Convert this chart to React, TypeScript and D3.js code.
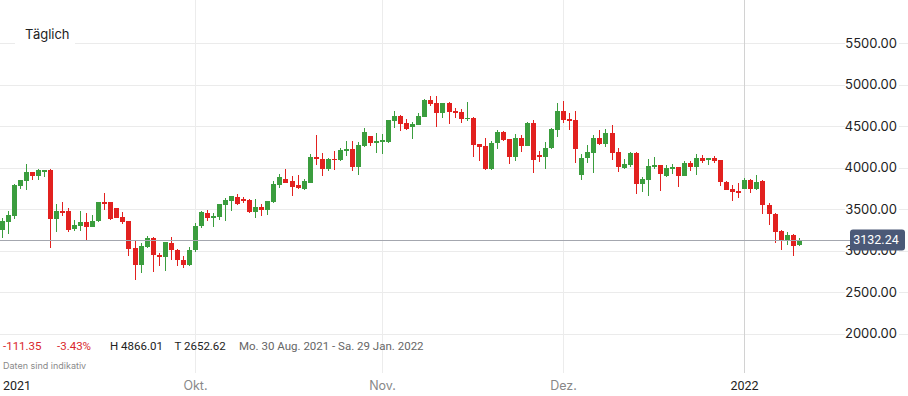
import React, { useEffect, useRef } from 'react';
import * as d3 from 'd3';

// daily candles, Mo. 30 Aug. 2021 onwards
const opens = [
  3247, 3343, 3415, 3778, 3838, 3947, 3898, 3959, 3971, 3376,
  3476, 3476, 3267, 3303, 3351, 3287, 3355, 3584, 3584, 3512,
  3408, 3355, 3034, 2824, 3041, 3155, 2945, 2921, 3094, 3013,
  2893, 2824, 3005, 3295, 3456, 3396, 3403, 3548, 3597, 3650,
  3617, 3605, 3464, 3529, 3488, 3584, 3786, 3867, 3838, 3786,
  3746, 3819, 4132, 4108, 3979, 4108, 4091, 4200, 4229, 4007,
  4260, 4381, 4301, 4313, 4313, 4562, 4622, 4543, 4490, 4514,
  4610, 4812, 4776, 4655, 4776, 4679, 4667, 4583, 4603, 4281,
  4260, 3979, 4293, 4434, 4341, 4128, 4353, 4260, 4543, 4148,
  4128, 4233, 4454, 4676, 4591, 4571, 3907, 4112, 4181, 4362,
  4281, 4414, 4188, 3991, 4027, 4181, 3807, 3850, 4007, 4027,
  3898, 3988, 4007, 3898, 4051, 4012, 4112, 4088, 4112, 4088,
  3831, 3738, 3717, 3746, 3850, 3746, 3838, 3545, 3444, 3243,
  3126, 3195, 3065,
];
const highs = [
  3388, 3484, 3798, 3852, 4039, 3950, 3988, 3975, 3979, 3557,
  3581, 3520, 3367, 3476, 3456, 3424, 3590, 3689, 3590, 3515,
  3464, 3360, 3114, 3094, 3182, 3160, 2974, 3108, 3167, 3016,
  2941, 3041, 3336, 3484, 3496, 3448, 3560, 3638, 3660, 3686,
  3645, 3617, 3625, 3557, 3596, 3838, 3919, 3979, 3898, 3907,
  3858, 4160, 4390, 4181, 4112, 4200, 4241, 4321, 4321, 4309,
  4474, 4385, 4414, 4402, 4575, 4683, 4630, 4591, 4550, 4663,
  4820, 4864, 4866.01, 4780, 4785, 4712, 4703, 4784, 4610, 4285,
  4362, 4321, 4450, 4441, 4345, 4402, 4390, 4550, 4571, 4200,
  4309, 4482, 4776, 4803, 4655, 4676, 4160, 4269, 4390, 4450,
  4462, 4510, 4241, 4108, 4188, 4188, 3891, 4108, 4128, 4030,
  4027, 4039, 4010, 4079, 4079, 4160, 4148, 4120, 4140, 4095,
  3835, 3786, 3819, 3879, 3867, 3907, 3850, 3577, 3456, 3250,
  3222, 3200, 3153,
];
const lows = [
  3158, 3207, 3384, 3738, 3729, 3850, 3850, 3891, 3034, 3222,
  3415, 3222, 3234, 3243, 3126, 3280, 3350, 3496, 3370, 3393,
  3319, 2933, 2652.62, 2732, 3035, 2740, 2812, 2752, 2893, 2812,
  2788, 2820, 2981, 3275, 3355, 3283, 3367, 3355, 3476, 3550,
  3569, 3448, 3391, 3415, 3428, 3580, 3750, 3815, 3657, 3738,
  3729, 3815, 4027, 3900, 3955, 3971, 4076, 4140, 3955, 3907,
  4253, 4260, 4181, 4160, 4293, 4482, 4441, 4455, 4350, 4510,
  4605, 4736, 4490, 4603, 4522, 4603, 4543, 4562, 4128, 4079,
  3971, 3975, 4221, 4321, 4039, 4079, 4188, 4255, 3931, 4067,
  3979, 4228, 4374, 4534, 4454, 4060, 3850, 4051, 3939, 4278,
  4253, 4091, 3947, 3979, 4007, 3686, 3705, 3657, 3979, 3717,
  3891, 3927, 3770, 3895, 3959, 3910, 4060, 4027, 4060, 3778,
  3725, 3597, 3633, 3740, 3689, 3729, 3436, 3315, 3094, 3013,
  3065, 2933, 3060,
];
const closes = [
  3355, 3424, 3786, 3850, 3943, 3898, 3971, 3971, 3376, 3476,
  3464, 3255, 3315, 3351, 3283, 3363, 3584, 3569, 3376, 3396,
  3343, 3022, 2824, 3053, 3155, 2953, 2921, 3102, 3005, 2884,
  2824, 3013, 3303, 3464, 3396, 3415, 3557, 3605, 3657, 3557,
  3597, 3464, 3529, 3488, 3593, 3798, 3891, 3819, 3770, 3750,
  3834, 4132, 4100, 3979, 4108, 4091, 4212, 4229, 4007, 4269,
  4434, 4301, 4321, 4329, 4571, 4622, 4522, 4462, 4522, 4622,
  4812, 4764, 4655, 4776, 4671, 4663, 4591, 4603, 4269, 4248,
  3979, 4293, 4434, 4333, 4128, 4353, 4260, 4534, 4088, 4128,
  4241, 4470, 4676, 4574, 4562, 4229, 4120, 4188, 4362, 4281,
  4414, 4181, 4012, 4039, 4181, 3798, 3858, 4019, 4027, 3927,
  3991, 4007, 3898, 4051, 4012, 4112, 4079, 4112, 4079, 3826,
  3729, 3705, 3689, 3850, 3746, 3831, 3545, 3436, 3222, 3126,
  3195, 3062, 3132.24,
];

const priceTicks = [2000, 2500, 3000, 3500, 4000, 4500, 5000, 5500];
const timeTickIndex = [32, 63, 93, 123];
const timeTickLabels = ['Okt.', 'Nov.', 'Dez.', '2022'];
const firstYearLabel = '2021';

const lastPrice = 3132.24;
const changeAbs = '-111.35';
const changePct = '-3.43%';
const periodHigh = 4866.01;
const periodLow = 2652.62;
const periodText = 'Mo. 30 Aug. 2021 - Sa. 29 Jan. 2022';
const intervalLabel = 'Täglich';
const noteText = 'Daten sind indikativ';

const W = 908;
const H = 396;
const FONT = "Inter, 'Open Sans', sans-serif";
const NARROW = "Roboto, 'Noto Sans', sans-serif";
const UP = '#3b9d3e';
const DOWN = '#e2211f';

export default function App() {
  const svgRef = useRef(null);

  useEffect(() => {
    const svg = d3.select(svgRef.current);
    svg.selectAll('*').remove();
    svg.attr('width', W).attr('height', H).style('font-family', FONT);

    const candles = closes.map((c, i) => ({ i, o: opens[i], h: highs[i], l: lows[i], c }));

    const x = d3.scaleLinear().domain([0, candles.length - 1]).range([1.7, 798.7]);
    const y = d3.scaleLinear().domain([2000, 5500]).range([333.8, 43]);
    const px = (i) => Math.round(x(i));
    const isYear = (k) => /^\d{4}$/.test(timeTickLabels[k]);

    // horizontal grid
    svg.append('g')
      .selectAll('line')
      .data(priceTicks)
      .join('line')
      .attr('x1', 0)
      .attr('x2', W)
      .attr('y1', d => Math.round(y(d)) + 0.5)
      .attr('y2', d => Math.round(y(d)) + 0.5)
      .attr('stroke', '#ebebeb');

    // vertical month lines
    svg.append('g')
      .selectAll('line')
      .data(timeTickIndex)
      .join('line')
      .attr('x1', d => px(d) + 0.5)
      .attr('x2', d => px(d) + 0.5)
      .attr('y1', 0)
      .attr('y2', 373)
      .attr('stroke', (d, k) => (isYear(k) ? '#d2d2d2' : '#ececec'));

    // interval label
    svg.append('rect')
      .attr('x', 15).attr('y', 24).attr('width', 60).attr('height', 20)
      .attr('fill', '#fff');
    svg.append('text')
      .attr('x', 25).attr('y', 38.5)
      .attr('fill', '#222')
      .style('font-size', '13px')
      .text(intervalLabel);

    // candles
    const g = svg.append('g').attr('shape-rendering', 'crispEdges');
    const col = d => (d.c >= d.o ? UP : DOWN);

    g.selectAll('.wick')
      .data(candles)
      .join('rect')
      .attr('class', 'wick')
      .attr('x', d => px(d.i))
      .attr('width', 1)
      .attr('y', d => y(d.h))
      .attr('height', d => Math.max(1, y(d.l) - y(d.h)))
      .attr('fill', col);

    g.selectAll('.body')
      .data(candles)
      .join('rect')
      .attr('class', 'body')
      .attr('x', d => px(d.i) - 2)
      .attr('width', 5)
      .attr('y', d => y(Math.max(d.o, d.c)))
      .attr('height', d => Math.max(1.5, Math.abs(y(d.o) - y(d.c))))
      .attr('fill', col);

    // last price line
    const yp = Math.round(y(lastPrice)) + 0.5;
    svg.append('line')
      .attr('x1', 0).attr('x2', 850)
      .attr('y1', yp).attr('y2', yp)
      .attr('stroke', '#a4a7af');

    // price axis labels
    const yl = svg.append('g')
      .selectAll('g')
      .data(priceTicks)
      .join('g')
      .attr('transform', d => `translate(0,${y(d)})`);
    yl.append('rect')
      .attr('x', 845).attr('y', -8).attr('width', 54).attr('height', 16)
      .attr('fill', '#fff');
    yl.append('text')
      .attr('x', 897)
      .attr('dy', '0.36em')
      .attr('text-anchor', 'end')
      .attr('fill', '#222')
      .style('font-size', '13px')
      .text(d => d3.format('.2f')(d));

    // last price tag
    svg.append('rect')
      .attr('x', 850).attr('y', yp - 11).attr('width', 55).attr('height', 21)
      .attr('rx', 3)
      .attr('fill', '#4b5977');
    svg.append('text')
      .attr('x', 876).attr('y', yp - 1)
      .attr('dy', '0.36em')
      .attr('text-anchor', 'middle')
      .attr('fill', '#fff')
      .style('font-family', NARROW)
      .style('font-size', '12.5px')
      .text(d3.format('.2f')(lastPrice));

    // summary row
    const stats = [
      { x: 3, text: changeAbs, fill: '#d9262c' },
      { x: 57, text: changePct, fill: '#d9262c' },
      { x: 110, text: `H ${d3.format('.2f')(periodHigh)}`, fill: '#222' },
      { x: 174.5, text: `T ${d3.format('.2f')(periodLow)}`, fill: '#222' },
      { x: 239, text: periodText, fill: '#666' },
    ];
    svg.append('g')
      .selectAll('text')
      .data(stats)
      .join('text')
      .attr('x', d => d.x)
      .attr('y', 350)
      .attr('fill', d => d.fill)
      .style('font-family', NARROW)
      .style('font-size', '11.5px')
      .text(d => d.text);

    svg.append('text')
      .attr('x', 3).attr('y', 369)
      .attr('fill', '#8a8a8a')
      .style('font-size', '9px')
      .text(noteText);

    // time axis labels
    svg.append('text')
      .attr('x', 3).attr('y', 390)
      .attr('fill', '#222')
      .style('font-family', NARROW)
      .style('font-size', '12.5px')
      .text(firstYearLabel);

    svg.append('g')
      .selectAll('text')
      .data(timeTickIndex)
      .join('text')
      .attr('x', d => px(d) + 0.5)
      .attr('y', 390)
      .attr('text-anchor', 'middle')
      .attr('fill', (d, k) => (isYear(k) ? '#222' : '#888'))
      .style('font-family', (d, k) => (isYear(k) ? NARROW : FONT))
      .style('font-size', '12.5px')
      .text((d, k) => timeTickLabels[k]);
  }, []);

  return (
    <div style={{ position: 'absolute', left: 0, top: 0, width: W, height: H, background: '#fff' }}>
      <svg ref={svgRef}></svg>
    </div>
  );
}
